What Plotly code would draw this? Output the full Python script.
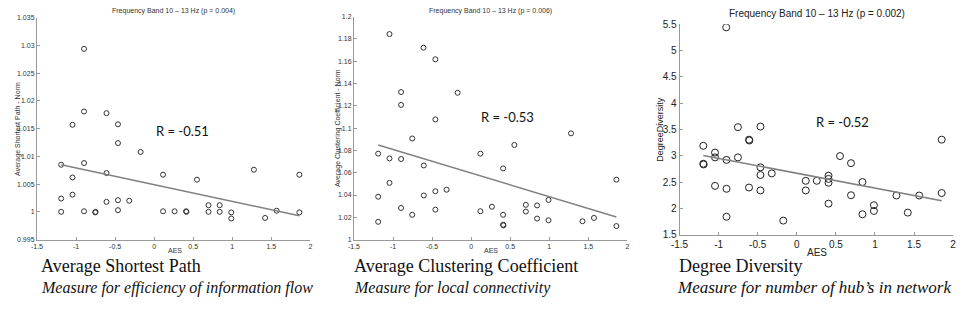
import plotly.graph_objects as go

W, H = 964, 309

# ---------------- data ----------------
aes_asp = [-1.19, -1.045, -1.045, -1.19, -1.045, -1.19, -0.897, -0.897, -0.61, -0.463,
           -0.463, -0.173, -0.897, -0.61, 0.114, -0.61, -0.463, -0.319, -0.897, -0.754,
           -0.750, -0.463, 0.114, 0.548, 1.277, 1.859, 0.262, 0.409, 0.413, 0.696,
           0.839, 0.696, 0.839, 0.987, 0.987, 1.42, 1.568, 1.859]
asp_norm = [1.0085, 1.0157, 1.0062, 1.0024, 1.0031, 1.0000, 1.0294, 1.0181, 1.0178, 1.0158,
            1.0124, 1.0108, 1.0088, 1.0070, 1.0067, 1.0018, 1.0021, 1.0020, 1.0001, 0.9999,
            1.0000, 1.0003, 1.0001, 1.0058, 1.0076, 1.0067, 1.0001, 1.0001, 1.0000, 1.0012,
            1.0012, 1.0000, 1.0000, 0.9999, 0.9988, 0.9989, 1.0002, 0.9999]
fit_asp_x = [-1.19, 1.859]
fit_asp_y = [1.0085, 0.9993]

aes_acc = [-1.045, -0.61, -0.458, -0.897, -0.173, -0.897, -0.458, -0.754, -1.19, -1.045,
           -0.897, -0.606, -1.045, -1.19, -0.606, -0.458, -0.315, -0.897, -0.754, -0.458,
           -1.19, 0.118, 0.118, 0.553, 1.278, 0.409, 1.859, 0.266, 0.409, 0.409,
           0.413, 0.70, 0.844, 0.70, 0.99, 0.844, 0.99, 1.425, 1.572, 1.859]
acc_norm = [1.1843, 1.1721, 1.1617, 1.1323, 1.1317, 1.1208, 1.1078, 1.0907, 1.0771, 1.0728,
            1.0723, 1.0665, 1.0509, 1.0385, 1.0396, 1.0434, 1.0448, 1.0284, 1.0223, 1.0269,
            1.0160, 1.0771, 1.0255, 1.0849, 1.0953, 1.0639, 1.0538, 1.0295, 1.0223, 1.0134,
            1.0128, 1.0312, 1.0307, 1.0252, 1.0356, 1.0189, 1.0174, 1.0165, 1.0195, 1.0122]
fit_acc_x = [-1.19, 1.859]
fit_acc_y = [1.0849, 1.0203]

aes_dd = [-0.903, -1.196, -1.196, -1.192, -1.046, -1.046, -1.046, -0.899, -0.899, -0.899,
          -0.753, -0.753, -0.611, -0.607, -0.611, -0.465, -0.465, -0.465, -0.465, -0.32,
          -0.173, 0.115, 0.115, 0.256, 0.406, 0.406, 0.406, 0.406, 0.553, 0.694,
          0.694, 0.84, 0.84, 0.987, 0.987, 1.275, 1.42, 1.566, 1.854, 1.854]
degree_div = [5.441, 3.189, 2.848, 2.835, 3.06, 2.969, 2.427, 2.921, 2.372, 1.841,
              3.544, 2.969, 3.306, 3.29, 2.396, 3.555, 2.78, 2.634, 2.341, 2.665,
              1.767, 2.524, 2.341, 2.524, 2.621, 2.56, 2.487, 2.09, 2.994, 2.859,
              2.249, 2.5, 1.888, 2.06, 1.951, 2.244, 1.919, 2.244, 3.306, 2.291]
fit_dd_x = [-1.196, 1.854]
fit_dd_y = [3.005, 2.145]

x_ticks = [-1.5, -1, -0.5, 0, 0.5, 1, 1.5, 2]
x_tick_labels = ["-1.5", "-1", "-0.5", "0", "0.5", "1", "1.5", "2"]
asp_ticks = [0.995, 1, 1.005, 1.01, 1.015, 1.02, 1.025, 1.03, 1.035]
asp_tick_labels = ["0.995", "1", "1.005", "1.01", "1.015", "1.02", "1.025", "1.03", "1.035"]
acc_ticks = [1, 1.02, 1.04, 1.06, 1.08, 1.1, 1.12, 1.14, 1.16, 1.18, 1.2]
acc_tick_labels = ["1", "1.02", "1.04", "1.06", "1.08", "1.1", "1.12", "1.14", "1.16", "1.18", "1.2"]
dd_ticks = [1.5, 2, 2.5, 3, 3.5, 4, 4.5, 5, 5.5]
dd_tick_labels = ["1.5", "2", "2.5", "3", "3.5", "4", "4.5", "5", "5.5"]

# ---------------- layout helpers (page pixel -> paper fraction) ----------------
def px_x(p):
    return p / W

def px_y(p):
    return (H - p) / H

fig = go.Figure()

panels = [
    dict(x=aes_asp, y=asp_norm, fx=fit_asp_x, fy=fit_asp_y, ax="x", ay="y",
         msize=5, mcol="#333333"),
    dict(x=aes_acc, y=acc_norm, fx=fit_acc_x, fy=fit_acc_y, ax="x2", ay="y2",
         msize=5, mcol="#333333"),
    dict(x=aes_dd, y=degree_div, fx=fit_dd_x, fy=fit_dd_y, ax="x3", ay="y3",
         msize=7, mcol="#222222"),
]
for p in panels:
    fig.add_trace(go.Scatter(x=p["x"], y=p["y"], mode="markers", xaxis=p["ax"], yaxis=p["ay"],
                             marker=dict(symbol="circle-open", size=p["msize"], color=p["mcol"],
                                         line=dict(width=1, color=p["mcol"])),
                             showlegend=False, hoverinfo="skip"))
    fig.add_trace(go.Scatter(x=p["fx"], y=p["fy"], mode="lines", xaxis=p["ax"], yaxis=p["ay"],
                             line=dict(color="#808080", width=1.5),
                             showlegend=False, hoverinfo="skip"))

axis_col = "#999999"
small = dict(family="Liberation Sans, Arial", size=7, color="#333333")
big = dict(family="Liberation Sans, Arial", size=10, color="#222222")

def xaxis(dom, fnt, anchor):
    return dict(domain=dom, range=[-1.5, 2], tickvals=x_ticks, ticktext=x_tick_labels,
                showline=True, linecolor=axis_col, linewidth=1, ticks="inside",
                ticklen=3, tickcolor=axis_col, showgrid=False, zeroline=False,
                tickfont=fnt, anchor=anchor, mirror=False)

def yaxis(dom, rng, tv, tt, fnt, anchor):
    return dict(domain=dom, range=rng, tickvals=tv, ticktext=tt,
                showline=True, linecolor=axis_col, linewidth=1, ticks="inside",
                ticklen=3, tickcolor=axis_col, showgrid=False, zeroline=False,
                tickfont=fnt, anchor=anchor, mirror=False)

fig.update_layout(
    width=W, height=H, margin=dict(l=0, r=0, t=0, b=0), autosize=False,
    paper_bgcolor="white", plot_bgcolor="white",
    xaxis=xaxis([px_x(28.3), px_x(305.2)], small, "y"),
    yaxis=yaxis([px_y(243.0), px_y(12.3)], [0.995, 1.035], asp_ticks, asp_tick_labels, small, "x"),
    xaxis2=xaxis([px_x(349.3), px_x(626.2)], small, "y2"),
    yaxis2=yaxis([px_y(243.1), px_y(11.0)], [1.0, 1.2], acc_ticks, acc_tick_labels, small, "x2"),
    xaxis3=xaxis([px_x(679.0), px_x(956.0)], big, "y3"),
    yaxis3=yaxis([px_y(237.9), px_y(19.0)], [1.5, 5.5], dd_ticks, dd_tick_labels, big, "x3"),
)

def ann(text, x, y, font, xanchor="center", yanchor="middle", angle=0):
    fig.add_annotation(text=text, x=px_x(x), y=px_y(y), xref="paper", yref="paper",
                       showarrow=False, font=font, xanchor=xanchor, yanchor=yanchor,
                       textangle=angle)

# titles
ann("Frequency Band 10 \u2013 13 Hz (p = 0.004)", 167, 5.5, small)
ann("Frequency Band 10 \u2013 13 Hz (p = 0.006)", 488, 5.5, small)
ann("Frequency Band 10 \u2013 13 Hz (p = 0.002)", 818, 8, big)

# axis titles
ann("AES", 168, 254, small)
ann("AES", 488, 254, small)
ann("AES", 818, 256, big)
ann("Average Shortest Path - Norm", 9, 128, small, angle=-90)
ann("Average Clustering Coefficient - Norm", 333, 127, small, angle=-90)
ann("DegreeDiversity", 659, 128, dict(family="Liberation Sans, Arial", size=9, color="#222222"), angle=-90)

# R annotations
rfont = dict(family="Lato, Liberation Sans", size=13, color="#111111")
ann("R = -0.51", 147, 130, rfont, xanchor="left")
ann("R = -0.53", 476, 116, rfont, xanchor="left")
ann("R = -0.52", 815, 121, rfont, xanchor="left")

# captions
cap = dict(family="Liberation Serif, Times New Roman", size=18, color="#111111")
capi = dict(family="Liberation Serif, Times New Roman", size=16, color="#111111")
capi3 = dict(family="Liberation Serif, Times New Roman", size=17, color="#111111")
ann("Average Shortest Path", 30, 270, cap, xanchor="left")
ann("<i>Measure for efficiency of information flow</i>", 30, 293, capi, xanchor="left")
ann("Average Clustering Coefficient", 347, 270, cap, xanchor="left")
ann("<i>Measure for local connectivity</i>", 347, 293, capi, xanchor="left")
ann("Degree Diversity", 676, 270, cap, xanchor="left")
ann("<i>Measure for number of hub\u2019s in network</i>", 674, 293, capi3, xanchor="left")

fig.write_html("out.html", config={"displayModeBar": False},
               post_script="document.body.style.margin='0';document.body.style.overflow='hidden';")
